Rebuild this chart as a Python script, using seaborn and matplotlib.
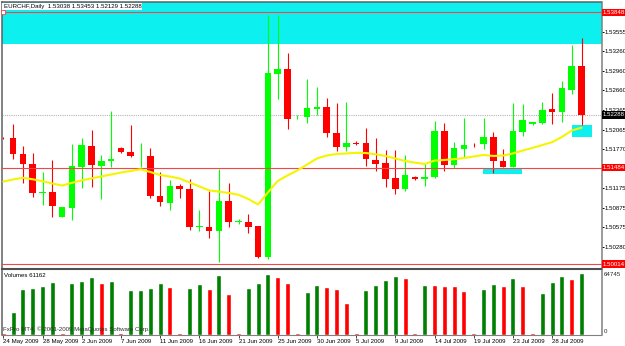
import matplotlib
matplotlib.use("Agg")
import matplotlib.pyplot as plt
from matplotlib import font_manager
from matplotlib.patches import Rectangle
from matplotlib.transforms import blended_transform_factory
import numpy as np
import pandas as pd
import seaborn as sns

# ---- data (EURCHF daily, Sunday bars included) ----
dates = [d for d in pd.date_range("2009-05-24", "2009-07-31") if d.dayofweek != 5]

opens = [
    1.51940, 1.51931, 1.51692, 1.51540, 1.51103, 1.51113, 1.50737, 1.50865, 1.51499, 1.51814,
    1.51509, 1.51585, 1.51784, 1.51723, 1.51672, 1.51662, 1.51052, 1.50950, 1.51209, 1.51159,
    1.50585, 1.50585, 1.50524, 1.50976, 1.50661, 1.50661, 1.50595, 1.50119, 1.52911, 1.52982,
    1.52251, 1.52260, 1.52378, 1.52413, 1.52017, 1.51803, 1.51858, 1.51855, 1.51601, 1.51550,
    1.51322, 1.51154, 1.51346, 1.51316, 1.51337, 1.52042, 1.51529, 1.51773, 1.51849, 1.51844,
    1.51946, 1.51590, 1.51499, 1.52032, 1.52145, 1.52160, 1.52373, 1.52336, 1.52667, 1.53038,
]
highs = [
    1.51951, 1.52145, 1.51814, 1.51703, 1.51422, 1.51601, 1.50885, 1.51844, 1.51936, 1.52058,
    1.51677, 1.52347, 1.51794, 1.52134, 1.51855, 1.51779, 1.51422, 1.51296, 1.51235, 1.51307,
    1.50839, 1.51121, 1.51459, 1.51255, 1.50697, 1.50774, 1.50595, 1.53810, 1.53805, 1.53235,
    1.52286, 1.52830, 1.52717, 1.52550, 1.52464, 1.52489, 1.51886, 1.52084, 1.51931, 1.51753,
    1.51753, 1.51677, 1.51362, 1.51550, 1.52195, 1.52160, 1.51879, 1.52245, 1.51864, 1.52236,
    1.52023, 1.51764, 1.52464, 1.52449, 1.52180, 1.52489, 1.52626, 1.52804, 1.53353, 1.53453,
]
lows = [
    1.51921, 1.51611, 1.51246, 1.51042, 1.50915, 1.50737, 1.50730, 1.50687, 1.51170, 1.51194,
    1.51002, 1.51499, 1.51703, 1.51651, 1.51499, 1.51017, 1.50905, 1.50839, 1.51017, 1.50534,
    1.50524, 1.50420, 1.50052, 1.50576, 1.50621, 1.50484, 1.50115, 1.50088, 1.52530, 1.52073,
    1.52225, 1.52169, 1.52286, 1.51956, 1.51738, 1.51742, 1.51825, 1.51509, 1.51433, 1.51194,
    1.51083, 1.51128, 1.51296, 1.51205, 1.51322, 1.51438, 1.51474, 1.51651, 1.51803, 1.51768,
    1.51407, 1.51489, 1.51489, 1.51966, 1.52134, 1.52149, 1.52145, 1.52184, 1.52602, 1.52129,
]
closes = [
    1.51931, 1.51688, 1.51540, 1.51103, 1.51106, 1.50905, 1.50880, 1.51509, 1.51825, 1.51520,
    1.51590, 1.51616, 1.51718, 1.51666, 1.51675, 1.51052, 1.50961, 1.51205, 1.51154, 1.50585,
    1.50588, 1.50524, 1.50976, 1.50661, 1.50664, 1.50585, 1.50128, 1.52921, 1.52982, 1.52230,
    1.52254, 1.52388, 1.52413, 1.52017, 1.51803, 1.51855, 1.51852, 1.51611, 1.51540, 1.51311,
    1.51154, 1.51372, 1.51311, 1.51346, 1.52042, 1.51520, 1.51779, 1.51829, 1.51840, 1.51956,
    1.51585, 1.51499, 1.52042, 1.52210, 1.52175, 1.52362, 1.52332, 1.52693, 1.53033, 1.52288,
]
volumes = [
    1800, 22500, 45300, 46900, 48900, 52200, 1800, 51200, 53200, 57200,
    51800, 53200, 1800, 44600, 44800, 46200, 51200, 47600, 1800, 46900,
    50500, 45600, 59100, 40900, 1800, 46200, 51200, 60700, 57500, 51800,
    1800, 42300, 49500, 47300, 45600, 32000, 1800, 44600, 49500, 54500,
    58100, 56800, 1800, 49500, 49300, 48900, 48600, 43900, 1800, 45600,
    50200, 48600, 56800, 48500, 1800, 41600, 52500, 58800, 55200, 61162,
]
# yellow moving average
ma = [
    1.51273, 1.51304, 1.51330, 1.51307, 1.51278, 1.51243, 1.51211, 1.51253, 1.51290, 1.51320,
    1.51349, 1.51380, 1.51410, 1.51433, 1.51459, 1.51418, 1.51372, 1.51349, 1.51319, 1.51258,
    1.51199, 1.51138, 1.51119, 1.51098, 1.51071, 1.51007, 1.50923, 1.51106, 1.51281, 1.51365,
    1.51441, 1.51532, 1.51624, 1.51669, 1.51692, 1.51700, 1.51710, 1.51707, 1.51688, 1.51662,
    1.51624, 1.51586, 1.51560, 1.51540, 1.51592, 1.51601, 1.51613, 1.51631, 1.51654, 1.51677,
    1.51662, 1.51669, 1.51701, 1.51745, 1.51785, 1.51829, 1.51872, 1.51951, 1.52050, 1.52093,
]

symbol = "EURCHF,Daily"
level_lines = [1.53848, 1.51484, 1.50014]
last_close = closes[-1]
price_ticks = [1.53555, 1.53260, 1.52960, 1.52660, 1.52365, 1.52065, 1.51770,
               1.51175, 1.50875, 1.50575, 1.50280]
vol_scale_max = 64745
resistance_zone = (1.53368, 1.5410)
small_zones = [(48.98, 52.9, 1.51383, 1.51483), (58.0, 60.04, 1.51951, 1.52134)]

# ---- style ----
sns.set_style("white")
names = {f.name for f in font_manager.fontManager.ttflist}
font = "Liberation Sans Narrow" if "Liberation Sans Narrow" in names else "Liberation Sans"
plt.rcParams["font.family"] = [font, "DejaVu Sans"]
FS = 5.2 if font.endswith("Narrow") else 4.4

BULL, BEAR = "#00FF00", "#FF0000"
VUP, VDOWN = "#008000", "#FF0000"
CYAN = "#0DF0F0"

W, H = 625, 346
fig = plt.figure(figsize=(W / 100, H / 100), dpi=100)
fig.patch.set_facecolor("white")


def px_box(x0, y0, x1, y1):
    return [x0 / W, 1 - y1 / H, (x1 - x0) / W, (y1 - y0) / H]


ax = fig.add_axes(px_box(2, 1.5, 601.5, 268.5))
axv = fig.add_axes(px_box(2, 268.5, 601.5, 335))

df = pd.DataFrame({"i": np.arange(len(dates)), "open": opens, "high": highs,
                   "low": lows, "close": closes, "volume": volumes, "ma": ma})
df["ccol"] = np.where(df["close"] >= df["open"], BULL, BEAR)
df["vdir"] = np.where(df["volume"] > df["volume"].shift(1), "up", "down")
xlim = (-0.133, 61.04)

# ---- price panel ----
ax.axhspan(*resistance_zone, color=CYAN, lw=0, zorder=0.5)
for x0, x1, lo, hi in small_zones:
    ax.add_patch(Rectangle((x0, lo), x1 - x0, hi - lo, fc=CYAN, ec="none", zorder=1))
ax.axhline(last_close, color="#B4B4B4", lw=0.8, ls=(0, (1, 1)), zorder=1.5)

ax.vlines(df["i"], df["low"], df["high"], colors=df["ccol"], lw=0.8, zorder=2)
body_lo = np.minimum(df["open"], df["close"])
body_h = np.maximum((df["close"] - df["open"]).abs(), 0.00012)
ax.bar(df["i"], body_h, bottom=body_lo, width=0.68, color=df["ccol"], lw=0, zorder=2.1)

for lv in level_lines:
    ax.axhline(lv, color="#F04848", lw=0.8, zorder=3)
ax.plot(xlim[0] + 0.15, level_lines[0], marker="s", ms=2.4, mfc="white", mec="#F04848",
        mew=0.6, zorder=3.5, clip_on=False)

sns.lineplot(x=df["i"], y=df["ma"], ax=ax, color="#F5F500", lw=1.5, zorder=4)

ax.set_xlim(xlim)
ax.set_ylim(1.49948, 1.54015)
ax.set_xlabel("")
ax.set_ylabel("")
ax.set_xticks([])
ax.yaxis.tick_right()
ax.set_yticks(price_ticks)
ax.set_yticklabels([f"{t:.5f}" for t in price_ticks])
ax.tick_params(axis="y", right=True, left=False, length=1.6, width=0.7, pad=0.8,
               labelsize=FS, colors="black")

tr = blended_transform_factory(ax.transAxes, ax.transData)
for lv in level_lines:
    ax.text(1.0 + 1.5 / 599.5, lv, f"{lv:.5f}", transform=tr, ha="left", va="center",
            fontsize=FS, color="white", zorder=10, clip_on=False,
            bbox=dict(boxstyle="square,pad=0.2", fc="#FF0000", ec="none"))
ax.text(1.0 + 1.5 / 599.5, last_close, f"{last_close:.5f}", transform=tr, ha="left",
        va="center", fontsize=FS, color="white", zorder=10, clip_on=False,
        bbox=dict(boxstyle="square,pad=0.2", fc="black", ec="none"))

for side in ["top", "left"]:
    ax.spines[side].set_color("#606060")
    ax.spines[side].set_linewidth(1.1)
ax.spines["right"].set_color("#808080")
ax.spines["right"].set_linewidth(1.1)
ax.spines["bottom"].set_visible(False)

# ---- volume panel ----
sns.barplot(data=df, x="i", y="volume", hue="vdir", palette={"up": VUP, "down": VDOWN},
            dodge=False, width=0.5, saturation=1, errorbar=None, legend=False, ax=axv)
axv.set_xlim(xlim)
axv.set_ylim(0, 65900)
axv.set_xlabel("")
axv.set_ylabel("")
axv.set_yticks([])
tick_idx = df["i"].values[::4]
axv.set_xticks(tick_idx)
axv.set_xticklabels([f"{d.day} {d:%b %Y}" for d in dates[::4]], ha="left")
axv.tick_params(axis="x", bottom=True, length=2, width=0.7, pad=1.2, labelsize=FS,
                color="#404040", labelcolor="black")

axv.spines["top"].set_color("#505050")
axv.spines["top"].set_linewidth(1.5)
axv.spines["left"].set_color("#606060")
axv.spines["left"].set_linewidth(1.1)
axv.spines["right"].set_color("#808080")
axv.spines["right"].set_linewidth(1.1)
axv.spines["bottom"].set_color("#808080")
axv.spines["bottom"].set_linewidth(0.8)

# ---- header / labels ----
o, h, l, c = opens[-1], highs[-1], lows[-1], closes[-1]
fig.text(3.5 / W, 1 - 6.5 / H, f"{symbol}  {o:.5f} {h:.5f} {l:.5f} {c:.5f}",
         ha="left", va="center", fontsize=FS, color="black",
         bbox=dict(boxstyle="square,pad=0.2", fc="white", ec="none"))
fig.text(4 / W, 1 - 275.7 / H, f"Volumes {volumes[-1]}", ha="left", va="center",
         fontsize=FS, color="black")
fig.text(3 / W, 1 - 329.5 / H, "FxPro MT4, \u00a9 2001-2009 MetaQuotes Software Corp.",
         ha="left", va="center", fontsize=FS, color="#303030")
fig.text(604 / W, 1 - 274 / H, f"{vol_scale_max}", ha="left", va="center", fontsize=FS)
fig.text(604 / W, 1 - 331.5 / H, "0", ha="left", va="center", fontsize=FS)

fig.savefig("out.png", dpi=100)
